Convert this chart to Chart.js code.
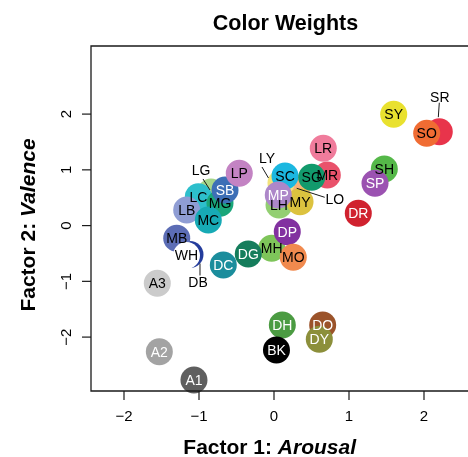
<!DOCTYPE html>
<html><head><meta charset="utf-8">
<script src="https://cdn.jsdelivr.net/npm/chart.js@4/dist/chart.umd.min.js"></script>
<style>html,body{margin:0;padding:0;background:#fff;overflow:hidden}canvas{display:block}</style>
</head><body>
<canvas id="c" width="468" height="457"></canvas>
<script>
// Colour terms, in drawing order (later ones sit on top)
const codes = ['A1','A2','A3','DB','MB','WH','DH','BK','DO','DY','LG','LC','LB','MG','MC','SB','LP',
  'LO','LY','LH','MY','SC','MR','SG','LR','MP','MH','DG','DC','DP','MO','SR','SO','SY','SH','SP','DR'];
// Factor 1 scores (arousal)
const arousal = [-1.067,-1.529,-1.556,-1.12,-1.297,-1.167,0.111,0.033,0.649,0.604,-0.84,-1.009,-1.164,-0.72,-0.876,-0.653,-0.463,
  0.303,0.093,0.067,0.347,0.147,0.711,0.503,0.657,0.057,-0.031,-0.343,-0.676,0.177,0.257,2.204,2.036,1.596,1.471,1.347,1.124];
// Factor 2 scores (valence)
const valence = [-2.769,-2.262,-1.035,-0.518,-0.228,-0.536,-1.783,-2.231,-1.783,-2.039,0.603,0.518,0.280,0.400,0.100,0.639,0.938,
  0.669,0.764,0.370,0.429,0.890,0.908,0.866,1.387,0.549,-0.407,-0.509,-0.707,-0.109,-0.569,1.684,1.656,1.998,1.015,0.759,0.221];
const xTicks = [-2,-1,0,1,2];
const yTicks = [-2,-1,0,1,2];

// Swatch colour for each term
const swatch = {
  A1:'#5f5f5f', A2:'#a3a3a3', A3:'#cbcbcb', BK:'#000000', WH:'#ffffff',
  DB:'#243c9c', MB:'#5c6db5', LB:'#8f9dd4', SB:'#3d6fb6',
  LC:'#2dbfcc', MC:'#17aab5', DC:'#1b8d9c', SC:'#1bb7e0',
  LG:'#a6d68a', MG:'#1aa67a', SG:'#129a6c', DG:'#157d5c',
  LH:'#93cf72', MH:'#7ec55a', SH:'#55b849', DH:'#4b9b42',
  LY:'#f3e37a', MY:'#dcc23f', SY:'#e9e12f', DY:'#8c8f3b',
  LO:'#f7b27a', MO:'#f18a4e', SO:'#f06c33', DO:'#9b532a',
  LR:'#f07c9c', MR:'#e9526b', SR:'#e8344b', DR:'#d0222f',
  LP:'#c383c3', MP:'#ad87c9', SP:'#9b52b1', DP:'#8231a0'
};
const whiteText = new Set(['A1','A2','BK','DB','SB','DC','DG','DH','DY','DO','DR','MP','SP','DP']);

// Labels pushed off their swatch, with a leader line (pixel offsets from the point)
const callouts = {
  LG: {at:[-10,-22], line:[-8,-13,-1,-2]},
  LY: {at:[-14,-25], line:[-19,-16,-12.5,-5]},
  LO: {at:[38,10.5], line:[0,0,28,9]},
  SR: {at:[0.5,-35], line:[0,-29,-1,-14.5]},
  DB: {at:[8,28], line:[10,9,10,21]}
};

const fontFam = '"Liberation Sans", Arial, Helvetica, sans-serif';
const ink = '#1a1a1a';

const labelPlugin = {
  id: 'swatchLabels',
  afterDatasetsDraw(chart) {
    const ctx = chart.ctx;
    const meta = chart.getDatasetMeta(0);
    ctx.save();
    ctx.font = '14px ' + fontFam;
    ctx.textAlign = 'center';
    ctx.textBaseline = 'alphabetic';
    meta.data.forEach((pt, i) => {
      const code = codes[i];
      const c = callouts[code];
      let lx = pt.x, ly = pt.y;
      if (c) {
        ctx.strokeStyle = ink;
        ctx.lineWidth = 1;
        ctx.beginPath();
        ctx.moveTo(pt.x + c.line[0], pt.y + c.line[1]);
        ctx.lineTo(pt.x + c.line[2], pt.y + c.line[3]);
        ctx.stroke();
        lx += c.at[0]; ly += c.at[1];
        ctx.fillStyle = '#000';
      } else {
        ctx.fillStyle = whiteText.has(code) ? '#fff' : '#000';
      }
      ctx.fillText(code, lx, ly + 5);
    });
    ctx.restore();
  }
};

function mixedText(ctx, parts, cx, cy) {
  let total = 0;
  parts.forEach(p => { ctx.font = p.font; p.w = ctx.measureText(p.t).width; total += p.w; });
  let x = cx - total / 2;
  ctx.textAlign = 'left';
  parts.forEach(p => { ctx.font = p.font; ctx.fillText(p.t, x, cy); x += p.w; });
}

const framePlugin = {
  id: 'frame',
  afterDraw(chart) {
    const ctx = chart.ctx;
    const a = chart.chartArea;
    const xs = chart.scales.x, ys = chart.scales.y;
    ctx.save();
    ctx.strokeStyle = ink;
    ctx.lineWidth = 1.3;
    ctx.beginPath();
    ctx.moveTo(a.right + 2, a.top);
    ctx.lineTo(a.left, a.top);
    ctx.lineTo(a.left, a.bottom);
    ctx.lineTo(a.right + 2, a.bottom);
    ctx.stroke();
    ctx.lineWidth = 1.2;
    ctx.fillStyle = '#000';
    ctx.font = '15px ' + fontFam;
    ctx.textBaseline = 'middle';
    ctx.textAlign = 'center';
    xTicks.forEach(v => {
      const px = xs.getPixelForValue(v);
      ctx.beginPath(); ctx.moveTo(px, a.bottom); ctx.lineTo(px, a.bottom + 9); ctx.stroke();
      ctx.fillText(v < 0 ? '\u2212' + Math.abs(v) : String(v), px, a.bottom + 26);
    });
    yTicks.forEach(v => {
      const py = ys.getPixelForValue(v);
      ctx.beginPath(); ctx.moveTo(a.left, py); ctx.lineTo(a.left - 9, py); ctx.stroke();
      ctx.save();
      ctx.translate(a.left - 24, py);
      ctx.rotate(-Math.PI / 2);
      ctx.fillText(v < 0 ? '\u2212' + Math.abs(v) : String(v), 0, 0);
      ctx.restore();
    });
    // Titles
    ctx.textBaseline = 'alphabetic';
    ctx.textAlign = 'center';
    ctx.font = 'bold 21.5px ' + fontFam;
    ctx.fillText('Color Weights', 285.5, 30);
    mixedText(ctx, [
      {t: 'Factor 1: ', font: 'bold 21px ' + fontFam},
      {t: 'Arousal', font: 'italic bold 21px ' + fontFam}
    ], 269.7, 453.5);
    ctx.save();
    ctx.translate(34.5, 225);
    ctx.rotate(-Math.PI / 2);
    mixedText(ctx, [
      {t: 'Factor 2: ', font: 'bold 21px ' + fontFam},
      {t: 'Valence', font: 'italic bold 21px ' + fontFam}
    ], 0, 0);
    ctx.restore();
    ctx.restore();
  }
};

new Chart(document.getElementById('c'), {
  type: 'scatter',
  data: {
    datasets: [{
      data: codes.map((c, i) => ({x: arousal[i], y: valence[i]})),
      backgroundColor: codes.map(c => swatch[c]),
      borderWidth: 0,
      pointRadius: 13.5,
      pointHoverRadius: 13.5,
      clip: false
    }]
  },
  options: {
    responsive: false,
    animation: false,
    devicePixelRatio: 1,
    events: [],
    layout: {autoPadding: false, padding: {left: 91, top: 46, right: 0, bottom: 66}},
    scales: {
      x: {type: 'linear', min: -2.44, max: 2.5867, display: false},
      y: {type: 'linear', min: -2.967, max: 3.2215, display: false}
    },
    plugins: {legend: {display: false}, tooltip: {enabled: false}, title: {display: false}}
  },
  plugins: [labelPlugin, framePlugin]
});
</script>
</body></html>
